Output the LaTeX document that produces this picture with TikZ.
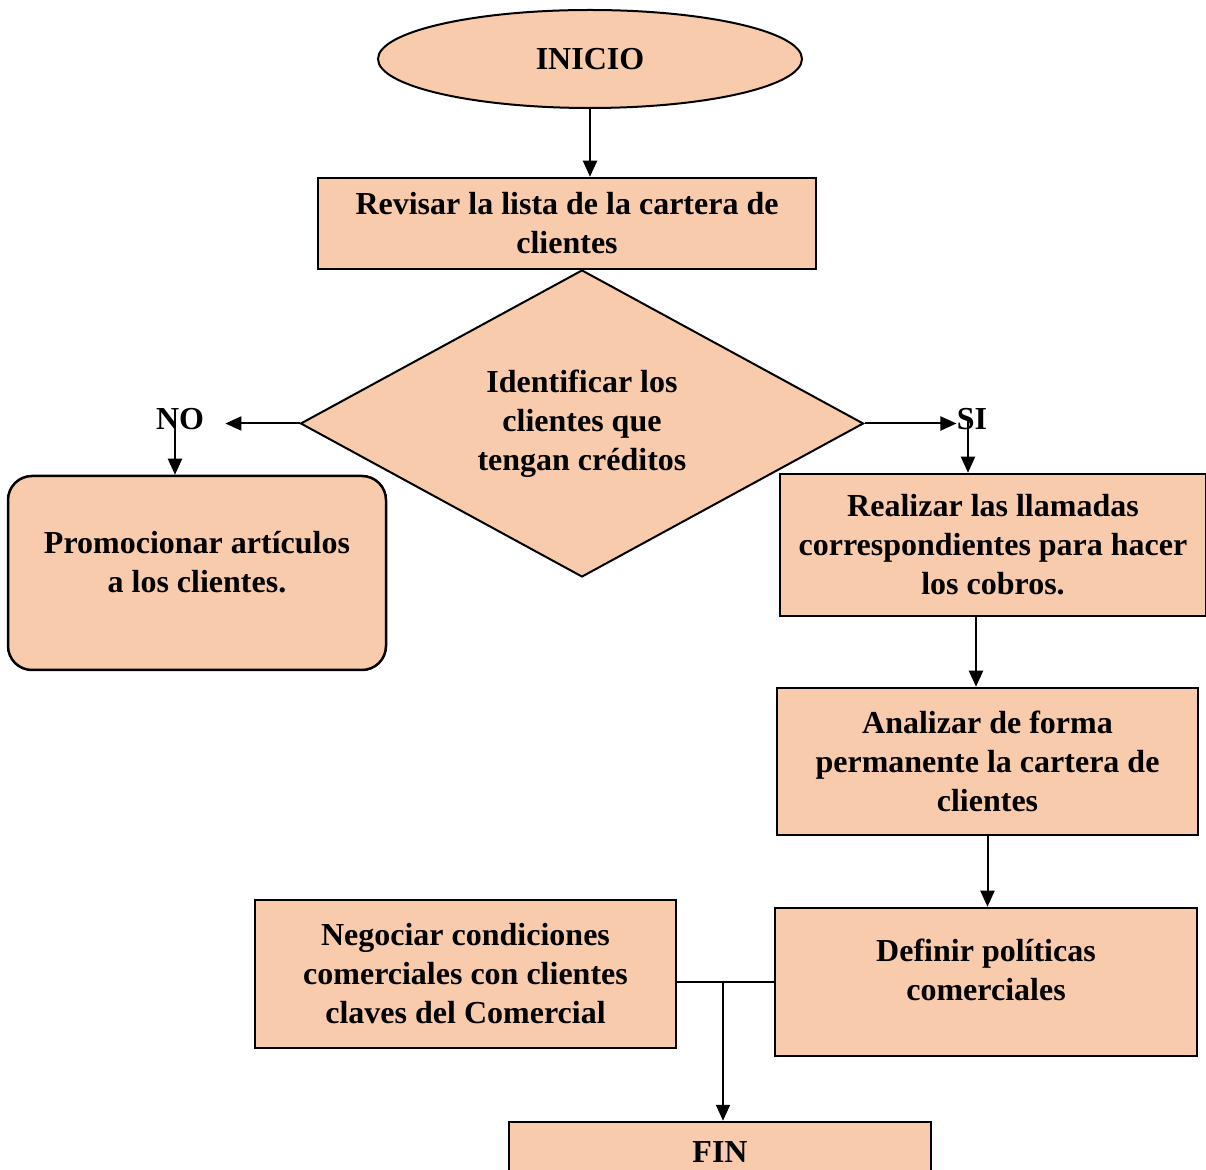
\documentclass[tikz,border=0pt]{standalone}
\usepackage{fontspec}
\setmainfont{Liberation Serif}
\usepackage{tikz}
\usetikzlibrary{calc,positioning}
\usetikzlibrary{shapes.geometric,arrows.meta}
\definecolor{durazno}{HTML}{F8CBAD}
\tikzset{
  % node styles (process boxes, start/end, decision)
  % 1 unit = 1 pixel of the sketch = 0.5pt
  caja/.style={rectangle,draw,fill=durazno,line width=1.25pt,inner sep=0pt,align=center,
    font=\fontsize{16}{19.5}\selectfont\bfseries},
  redonda/.style={caja,rounded corners=12pt},
  inicio/.style={ellipse,draw,fill=durazno,line width=1pt,inner sep=0pt,
    font=\fontsize{16}{19.5}\selectfont\bfseries},
  decision/.style={diamond,draw,fill=durazno,line width=1pt,inner sep=0pt,align=center,
    aspect=1.83,font=\fontsize{16}{19.5}\selectfont\bfseries},
  etiqueta/.style={inner sep=0pt,font=\fontsize{16}{19.5}\selectfont\bfseries},
  % connector styles
  flecha/.style={line width=1pt,-{Triangle[length=8pt,width=7pt]}},
  linea/.style={line width=0.6pt},
}
\begin{document}
\begin{tikzpicture}[x=0.5pt,y=-0.5pt]
  \clip (0,0) rectangle (1206,1170);
  \node[inicio,minimum width=212pt,minimum height=49pt] (ini) at (590,59) {INICIO};
  \node[caja,minimum width=249pt,minimum height=45.5pt] (rev) at (567,223.5)
    {Revisar la lista de la cartera de\\clientes};
  \node[decision,minimum width=281.5pt,minimum height=153.5pt] (ide) at (582,423.5)
    {Identificar los\\clientes que\\tengan créditos};
  \node[etiqueta] (no) at (180,419) {NO};
  \node[etiqueta] (si) at (972,419) {SI};
  \node[redonda,minimum width=189pt,minimum height=97pt,text depth=11pt] (pro) at (197,573)
    {Promocionar artículos\\a los clientes.};
  \node[caja,minimum width=213pt,minimum height=71pt] (rea) at (993,545)
    {Realizar las llamadas\\correspondientes para hacer\\los cobros.};
  \node[caja,minimum width=210.5pt,minimum height=73.5pt] (ana) at (987.5,761.5)
    {Analizar de forma\\permanente la cartera de\\clientes};
  \node[caja,minimum width=211pt,minimum height=74pt,text depth=12pt] (def) at (986,982)
    {Definir políticas\\comerciales};
  \node[caja,minimum width=210.5pt,minimum height=74pt] (neg) at (465.5,974)
    {Negociar condiciones\\comerciales con clientes\\claves del Comercial};
  \node[caja,minimum width=211pt,minimum height=30pt] (fin) at (720,1152) {FIN};
  \coordinate (union) at (723,981);

  \draw[flecha] (ini.south -| 590,0) -- (590,0 |- rev.north);
  \draw[flecha] (ide.west) -- ([xshift=10.5pt]no.east |- ide.west);
  \draw[flecha] ([xshift=-2.5pt]no.center) -- ([xshift=-2.5pt]no.center |- pro.north);
  \draw[flecha] (ide.east) -- (si.west |- ide.east);
  \draw[flecha] ([xshift=-2pt]si.center) -- ([xshift=-2pt]si.center |- rea.north);
  \draw[flecha] (rea.south -| 976,0) -- (976,0 |- ana.north);
  \draw[flecha] (ana.south) -- (ana.south |- def.north);
  \draw[linea] (def.west) -- (def.west -| neg.east);
  \draw[flecha] (union) -- (union |- fin.north);
\end{tikzpicture}
\end{document}
